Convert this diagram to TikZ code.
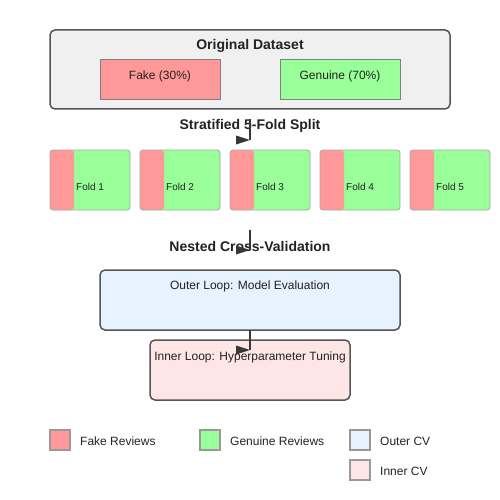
\documentclass[tikz,border=0pt]{standalone}
\usepackage{fontspec}
\setmainfont{Liberation Sans}
\definecolor{fakered}{HTML}{FF9999}
\definecolor{genuinegreen}{HTML}{99FF99}
\definecolor{datagray}{HTML}{F0F0F0}
\definecolor{outerblue}{HTML}{E6F2FF}
\definecolor{innerpink}{HTML}{FFE6E6}
\definecolor{edgegray}{HTML}{555555}
\definecolor{textgray}{HTML}{222222}
\newcommand{\flowhead}[1]{\fill[textgray!90] (#1) -- ++(-14,-4.5) -- ++(0,9) -- cycle;}
\begin{document}
\begin{tikzpicture}[x=1pt, y=-1pt, every node/.style={text=textgray, inner sep=0pt},
  big box/.style={draw=edgegray, line width=1.5pt, rounded corners=5pt},
  class box/.style={draw=gray, line width=1pt, minimum width=120pt, minimum height=40pt},
  fold box/.style={draw=gray!70, line width=0.8pt, rounded corners=3pt, fill=genuinegreen,
    minimum width=80pt, minimum height=60pt,
    path picture={\fill[fakered] (path picture bounding box.north west) rectangle ([xshift=24pt]path picture bounding box.south west);}},
  key box/.style={draw=gray!80, line width=1.2pt, minimum size=20pt},
  title/.style={font=\fontsize{14}{16}\selectfont\bfseries},
  main text/.style={font=\fontsize{12}{14}\selectfont},
  fold text/.style={font=\fontsize{10}{12}\selectfont, anchor=west},
  key text/.style={font=\fontsize{12}{14}\selectfont, anchor=west},
  flow/.style={draw=textgray!90, line width=1.5pt}]
\useasboundingbox (0,0) rectangle (500,500);
% dataset
\node[big box, fill=datagray, minimum width=400pt, minimum height=79pt] (data) at (250,69.5) {};
\node[title] (datatitle) at (250,46) {Original Dataset};
\node[class box, fill=fakered] (fake) at (160,80) {};
\node[main text] (faketext) at (160,76.5) {Fake (30\%)};
\node[class box, fill=genuinegreen] (genuine) at (340,80) {};
\node[main text] (genuinetext) at (340,76.5) {Genuine (70\%)};
% folds
\node[title] (split) at (250,126) {Stratified 5-Fold Split};
\foreach \i in {1,...,5}{
  \node[fold box] (fold\i) at (90*\i,180) {};
  \node[fold text] (foldtext\i) at (90*\i-14,186.5) {Fold \i};
}
% nested cv
\node[title] (nested) at (250,246) {Nested Cross-Validation};
\node[big box, fill=outerblue, minimum width=300pt, minimum height=60pt] (outer) at (250,300) {};
\node[main text] (outertext) at (250,286.5) {Outer Loop: Model Evaluation};
\node[big box, fill=innerpink, minimum width=200pt, minimum height=60pt] (inner) at (250,370) {};
\node[main text] (innertext) at (250,357) {Inner Loop: Hyperparameter Tuning};
% legend
\node[key box, fill=fakered] (keyfake) at (60,440) {};
\node[key text] (keyfaketext) at (80,441) {Fake Reviews};
\node[key box, fill=genuinegreen] (keygenuine) at (210,440) {};
\node[key text] (keygenuinetext) at (230,441) {Genuine Reviews};
\node[key box, fill=outerblue] (keyouter) at (360,440) {};
\node[key text] (keyoutertext) at (380,441) {Outer CV};
\node[key box, fill=innerpink] (keyinner) at (360,470) {};
\node[key text] (keyinnertext) at (380,471) {Inner CV};
% arrows
\coordinate (a1) at (250,119);
\coordinate (b1) at (250,140);
\coordinate (a2) at (250,230);
\coordinate (b2) at (250,250);
\coordinate (a3) at (250,330);
\coordinate (b3) at (250,350);
\foreach \i in {1,2,3}{
  \draw[flow] (a\i) -- (b\i);
  \flowhead{b\i}
}
\end{tikzpicture}
\end{document}
